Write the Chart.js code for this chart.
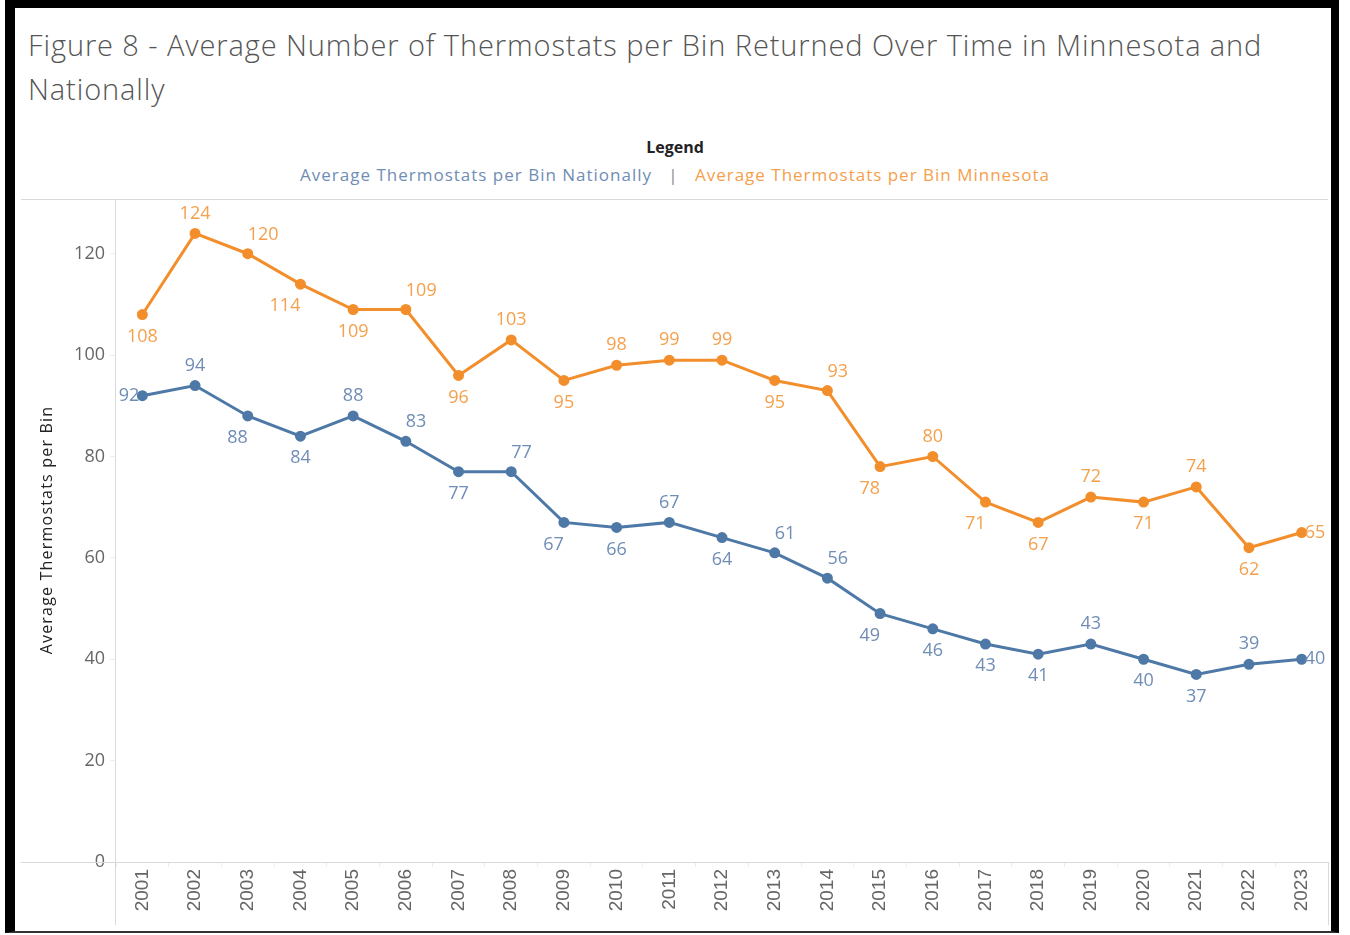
<!DOCTYPE html>
<html>
<head>
<meta charset="utf-8">
<script src="https://cdn.jsdelivr.net/npm/chart.js@4"></script>
<style>
  html, body { margin: 0; padding: 0; background: #fff; }
  #page { position: relative; width: 1350px; height: 935px; overflow: hidden; }
  #frame { position: absolute; left: 5px; top: 0; width: 1334px; height: 933px;
    border-left: 10px solid #000; border-top: 8px solid #000; border-right: 8px solid #000; border-bottom: 2px solid #333;
    box-sizing: border-box; }
  #title { position: absolute; left: 28px; top: 23px; width: 1260px; font-family: "Open Sans", sans-serif;
    font-weight: 300; font-size: 29px; letter-spacing: 0.9px; line-height: 44px; color: #555; }
  #legtitle { position: absolute; left: 0; width: 1350px; top: 136px; text-align: center;
    font-family: "Open Sans", sans-serif; font-weight: 700; font-size: 16px; color: #222; }
  #legitems { position: absolute; left: 0; width: 1350px; top: 163px; text-align: center;
    font-family: "Open Sans", sans-serif; font-size: 17px; letter-spacing: 1px; color: #888; }
  #legitems .nat { color: #6f8db5; }
  #legitems .mn { color: #f4a04d; }
  #ytitle { position: absolute; left: 46px; top: 530px; transform: translate(-50%, -50%) rotate(-90deg);
    white-space: nowrap; font-family: "Open Sans", sans-serif; font-size: 16px; letter-spacing: 1.2px; color: #222; }
  canvas { position: absolute; left: 0; top: 0; }
</style>
</head>
<body>
<div id="page">
  <div id="title">Figure 8 - Average Number of Thermostats per Bin Returned Over Time in Minnesota and Nationally</div>
  <div id="legtitle">Legend</div>
  <div id="legitems"><span class="nat">Average Thermostats per Bin Nationally</span>&nbsp;&nbsp;&nbsp;|&nbsp;&nbsp;&nbsp;<span class="mn">Average Thermostats per Bin Minnesota</span></div>
  <canvas id="myChart" width="1350" height="935"></canvas>
  <div id="ytitle">Average Thermostats per Bin</div>
  <div id="frame"></div>
</div>
<script>
const years = ['2001','2002','2003','2004','2005','2006','2007','2008','2009','2010','2011','2012',
  '2013','2014','2015','2016','2017','2018','2019','2020','2021','2022','2023']
const minnesota = [108,124,120,114,109,109,96,103,95,98,99,99,95,93,78,80,71,67,72,71,74,62,65]
const national = [92,94,88,84,88,83,77,77,67,66,67,64,61,56,49,46,43,41,43,40,37,39,40]
const yTicks = [0,20,40,60,80,100,120]

// where each value label sits: a above, b below, ar above-right, bl below-left, r right, l left
const mnLabelPos = ['b','a','ar','bl','b','ar','b','a','b','a','a','a','b','ar','bl','a','bl','b','a','b','a','b','r']
const natLabelPos = ['l','a','bl','b','a','ar','b','ar','bl','b','a','b','ar','ar','bl','b','b','b','a','b','b','a','r']

const orange = '#f28e2b'
const blue = '#4e79a7'

const valueLabels = {
  id: 'valueLabels',
  afterDatasetsDraw(chart) {
    const ctx = chart.ctx
    const area = chart.chartArea
    ctx.save()
    ctx.font = '18px "Open Sans", sans-serif'
    ctx.textBaseline = 'middle'
    chart.data.datasets.forEach((ds, di) => {
      const meta = chart.getDatasetMeta(di)
      meta.data.forEach((pt, i) => {
        const txt = String(ds.data[i])
        const w = ctx.measureText(txt).width
        const pos = ds.labelPos[i]
        let cx = pt.x, cy = pt.y
        if (pos == 'a') cy -= 20
        if (pos == 'b') cy += 22
        if (pos == 'ar') { cy -= 19; cx += w / 2 }
        if (pos == 'bl') { cy += 22; cx -= w / 2 }
        if (pos == 'r') cx += 3 + w / 2
        if (pos == 'l') cx -= 3 + w / 2
        if (cx - w / 2 < area.left) cx = area.left + w / 2
        if (cx + w / 2 > area.right) cx = area.right - w / 2
        ctx.fillStyle = ds.labelColor
        ctx.textAlign = 'center'
        ctx.fillText(txt, cx, cy)
      })
    })
    ctx.restore()
  }
}

const paneLines = {
  id: 'paneLines',
  beforeDatasetsDraw(chart) {
    const ctx = chart.ctx
    const a = chart.chartArea
    ctx.save()
    ctx.strokeStyle = '#d9d9d9'
    ctx.lineWidth = 1
    ctx.beginPath()
    ctx.moveTo(21, a.top - 0.5); ctx.lineTo(a.right, a.top - 0.5)
    ctx.moveTo(21, a.bottom + 0.5); ctx.lineTo(a.right, a.bottom + 0.5)
    ctx.moveTo(a.left - 0.5, a.top); ctx.lineTo(a.left - 0.5, 925)
    ctx.moveTo(a.right + 0.5, a.bottom); ctx.lineTo(a.right + 0.5, 925)
    ctx.stroke()
    ctx.restore()
  }
}

const ctx = document.getElementById('myChart')

new Chart(ctx, {
  type: 'line',
  data: {
    labels: years,
    datasets: [{
      label: 'Average Thermostats per Bin Nationally',
      data: national,
      borderColor: blue,
      backgroundColor: blue,
      borderWidth: 3,
      pointRadius: 4,
      pointHoverRadius: 4,
      tension: 0,
      labelPos: natLabelPos,
      labelColor: '#6f8db5'
    },
    {
      label: 'Average Thermostats per Bin Minnesota',
      data: minnesota,
      borderColor: orange,
      backgroundColor: orange,
      borderWidth: 3,
      pointRadius: 4,
      pointHoverRadius: 4,
      tension: 0,
      labelPos: mnLabelPos,
      labelColor: '#f4a04d'
    }]
  },
  options: {
    responsive: false,
    animation: false,
    layout: { padding: { left: 21, top: 200, right: 22, bottom: 10 } },
    plugins: {
      legend: { display: false },
      tooltip: { enabled: false }
    },
    scales: {
      x: {
        offset: true,
        afterFit: (s) => { s.height = 63 },
        grid: { drawOnChartArea: false, drawTicks: true, tickLength: 5, color: '#eeeeee', offset: true },
        border: { display: false },
        ticks: {
          minRotation: 90, maxRotation: 90, autoSkip: false, padding: 2,
          color: '#666', font: { family: 'Liberation Sans, Arial', size: 19 }
        }
      },
      y: {
        min: 0,
        max: 130.6,
        afterFit: (s) => { s.width = 95 },
        afterBuildTicks: (s) => { s.ticks = yTicks.map(v => ({ value: v })) },
        grid: { drawOnChartArea: false, drawTicks: true, tickLength: 6, color: '#eeeeee' },
        border: { display: false },
        ticks: { padding: 5, color: '#666', font: { family: 'Open Sans', size: 18 } }
      }
    }
  },
  plugins: [paneLines, valueLabels]
})
</script>
</body>
</html>
